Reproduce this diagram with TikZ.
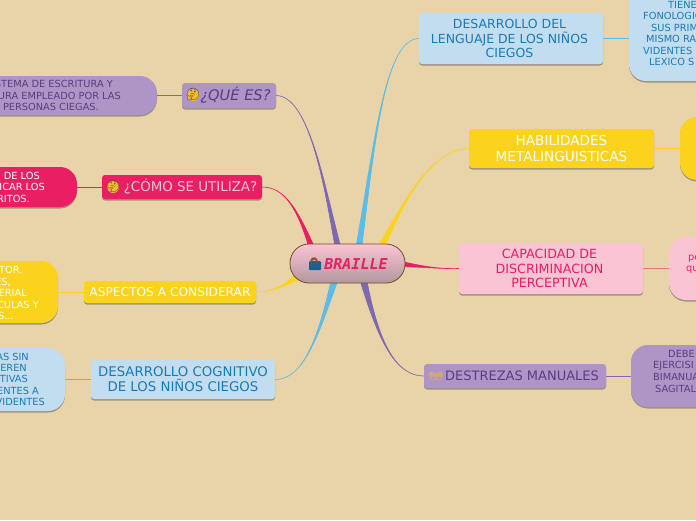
\documentclass[tikz,border=0pt]{standalone}
\usepackage{fontspec}
\setmainfont{DejaVu Sans}
\newfontfamily\braillefont{DejaVu Sans Mono}
\newfontfamily\emojifont{Noto Emoji}
\usetikzlibrary{backgrounds,calc,shadows}

\definecolor{paper}{HTML}{E8D4A8}
\definecolor{lilac}{HTML}{AE95C6}
\definecolor{lilacdark}{HTML}{5C3B82}
\definecolor{lilacline}{HTML}{7E68B0}
\definecolor{crimson}{HTML}{E91E63}
\definecolor{rose}{HTML}{FBC4D4}
\definecolor{roseline}{HTML}{E8708A}
\definecolor{sun}{HTML}{FBD31C}
\definecolor{sky}{HTML}{C2DCF0}
\definecolor{skydark}{HTML}{1A7AB5}
\definecolor{skyline}{HTML}{5BBCE8}
\definecolor{smile}{HTML}{F5B82E}

\tikzset{
  mainbox/.style={rectangle, rounded corners=3pt, inner sep=0pt, align=center,
    font=\fontsize{13}{14.5}\selectfont,
    drop shadow={shadow xshift=0pt, shadow yshift=-1.5pt, fill=black!60, opacity=.6}},
  leafbox/.style={rectangle, rounded corners=17pt, inner sep=0pt,
    drop shadow={shadow xshift=0pt, shadow yshift=-1.5pt, fill=black!60, opacity=.6}},
  leaftext/.style={inner sep=0pt, font=\fontsize{9.8}{11}\selectfont},
  smiley/.style={inner sep=0pt, font=\emojifont\fontsize{12}{12}\selectfont}
}

% tapering branch from a topic to the centre
\newcommand{\branch}[6]{\filldraw[#1, line width=.6pt] (#2) .. controls #3 and #4 .. ($(braille)+#5$) -- ($(braille)+#6$) .. controls #4 and #3 .. cycle;}

\begin{document}
\begin{tikzpicture}[x=1pt, y=-1pt]
\useasboundingbox (0,0) rectangle (696,520);
\clip (0,0) rectangle (696,520);

% Centre
\node[rectangle, rounded corners=19pt, draw=black!40!brown, line width=.8pt, top color=rose, bottom color=rose!60!black!75,
  minimum width=115, minimum height=39, inner sep=0pt] (braille) at (347.5,263.5) {};
\node[inner sep=0pt, text=crimson, font=\braillefont\bfseries\itshape\fontsize{15}{16}\selectfont] (brailletext) at (356,264) {BRAILLE};
\fill[skydark!80!black, rounded corners=1pt] (309,261) rectangle (321,270);
\node[smiley, text=brown!70!black, font=\emojifont\fontsize{9}{9}\selectfont] (brailleicon) at (314,262) {\symbol{"1F469}};

% Topics on the left
\node[mainbox, fill=lilac, text=lilacdark, minimum width=94, minimum height=25, font=\fontsize{14.6}{16}\selectfont\itshape] (que) at (229,95.5) {\hspace*{13pt}¿QUÉ ES?};
\node[mainbox, fill=crimson, text=rose, minimum width=160, minimum height=24, font=\fontsize{13.4}{15}\selectfont] (como) at (182,187) {\hspace*{17pt}¿CÓMO SE UTILIZA?};
\node[mainbox, fill=sun, text=white, minimum width=172, minimum height=22, font=\fontsize{12.2}{14}\selectfont] (aspectos) at (170,292) {ASPECTOS A CONSIDERAR};
\node[mainbox, fill=sky, text=skydark, minimum width=184, minimum height=39, font=\fontsize{13.3}{15}\selectfont] (cognitivo) at (183,379.5) {DESARROLLO COGNITIVO\\DE LOS NIÑOS CIEGOS};

% Topics on the right
\node[mainbox, fill=sky, text=skydark, minimum width=184, minimum height=51, font=\fontsize{12.5}{14.7}\selectfont] (lenguaje) at (511,38.5) {\hspace*{-3pt}DESARROLLO DEL\\\hspace*{-3pt}LENGUAJE DE LOS NIÑOS\\\hspace*{-3pt}CIEGOS};
\node[mainbox, fill=sun, text=white, minimum width=185, minimum height=39, font=\fontsize{13.6}{15.5}\selectfont] (habilidades) at (561.5,148.5) {HABILIDADES\\METALINGUISTICAS};
\node[mainbox, fill=rose, text=crimson, minimum width=184, minimum height=51, font=\fontsize{12.7}{14.7}\selectfont] (capacidad) at (551,268.5) {\hspace*{-3pt}CAPACIDAD DE\\\hspace*{-3pt}DISCRIMINACION\\\hspace*{-3pt}PERCEPTIVA};
\node[mainbox, fill=lilac, text=lilacdark, minimum width=182, minimum height=24] (destrezas) at (515,376) {\hspace*{14pt}DESTREZAS MANUALES};

% Leaves, cut by the page edge
\node[leafbox, fill=lilac, minimum width=200, minimum height=39] (queleaf) at (57,95.5) {};
\node[leafbox, fill=crimson, minimum width=160, minimum height=40] (comoleaf) at (-3,187) {};
\node[leafbox, fill=sun, minimum width=160, minimum height=62] (aspectosleaf) at (-22,292) {};
\node[leafbox, fill=sky, minimum width=160, minimum height=63] (cognitivoleaf) at (-15,379.5) {};
\node[leafbox, fill=sky, minimum width=160, minimum height=120] (lenguajeleaf) at (709,21) {};
\node[leafbox, fill=sun, minimum width=160, minimum height=63] (habilidadesleaf) at (760,148.5) {};
\node[leafbox, fill=rose, minimum width=160, minimum height=63] (capacidadleaf) at (749,268.5) {};
\node[leafbox, fill=lilac, minimum width=160, minimum height=62] (destrezasleaf) at (711,376) {};

% Leaf texts
\foreach \xr/\yy/\txt [count=\i] in {113/84/STEMA DE ESCRITURA Y, 121/96/TURA EMPLEADO POR LAS, 99/107/PERSONAS CIEGAS.}
  \node[leaftext, text=lilacdark, anchor=east] (quetext\i) at (\xr,\yy) {\txt};
\foreach \xr/\yy/\txt [count=\i] in {40/176/DE LOS, 45/187/ICAR LOS, 30/199/RITOS.}
  \node[leaftext, text=white, anchor=east] (comotext\i) at (\xr,\yy) {\txt};
\foreach \xr/\yy/\txt [count=\i] in {23/270/{TOR,}, 11/282/{ES,}, 27/293/ERIAL, 39/305/CULAS Y, 14/316/{S.{}.{}.{}}}
  \node[leaftext, text=white, anchor=east] (aspectostext\i) at (\xr,\yy) {\txt};
\foreach \xr/\yy/\txt [count=\i] in {29/357/AS SIN, 27/368/IEREN, 28/379/TIVAS, 39/391/ENTES A, 45/402/VIDENTES}
  \node[leaftext, text=skydark, anchor=east] (cognitivotext\i) at (\xr,\yy) {\txt};
\foreach \xl/\yy/\txt [count=\i] in {668/5/TIENE, 643/16/FONOLOGIC, 651/28/SUS PRIM, 646/39/MISMO RA, 643/51/VIDENTES, 649/62/LEXICO S}
  \node[leaftext, text=skydark, anchor=west] (lenguajetext\i) at (\xl,\yy) {\txt};
\foreach \xl/\yy/\txt [count=\i] in {688/259/pe, 686/270/qu}
  \node[leaftext, text=crimson, anchor=west] (capacidadtext\i) at (\xl,\yy) {\txt};
\foreach \xl/\yy/\txt [count=\i] in {668/354/DEBE, 653/366/EJERCISI, 653/377/BIMANUA, 655/389/SAGITAL}
  \node[leaftext, text=lilacdark, anchor=west] (destrezastext\i) at (\xl,\yy) {\txt};

% Icons
\fill[smile] (193,95) circle (6);
\node[smiley, text=black!70] (queicon) at (193,95) {\symbol{"1F914}};
\fill[smile] (113,187) circle (6);
\node[smiley, text=black!70] (comoicon) at (113,187) {\symbol{"1F914}};
\node[smiley, text=smile] (destrezasicon) at (436,376) {\symbol{"1F450}};

\begin{scope}[on background layer]
\fill[paper] (0,0) rectangle (696,520);

% Branches to the centre
\branch{lilacline}{que.east}{(310,96)}{(325,190)}{(-12,-14)}{(-6,-14)}
\branch{crimson}{como.east}{(285,187)}{(298,210)}{(-38,-14)}{(-32,-14)}
\branch{sun}{aspectos.east}{(272,292)}{(287,285)}{(-50,8)}{(-44,14)}
\branch{skyline}{cognitivo.east}{(305,380)}{(320,330)}{(-16,15)}{(-9,15)}
\branch{skyline}{lenguaje.west}{(385,39)}{(375,140)}{(8,-14)}{(14,-14)}
\branch{sun}{habilidades.west}{(430,150)}{(405,200)}{(29,-14)}{(36,-14)}
\branch{crimson}{capacidad.west}{(440,269)}{(425,267)}{(50,-3)}{(50,3)}
\branch{lilacline}{destrezas.west}{(395,376)}{(378,340)}{(12,15)}{(19,15)}

% Lines to the leaves
\draw[lilacline, line width=1pt] (que.west) -- (queleaf.east);
\draw[crimson, line width=1pt] (como.west) -- (comoleaf.east);
\draw[sun, line width=1pt] (aspectos.west) -- (aspectosleaf.east);
\draw[skyline, line width=1pt] (cognitivo.west) -- (cognitivoleaf.east);
\draw[skyline, line width=1pt] (lenguaje.east) -- (lenguaje.east -| lenguajeleaf.west);
\draw[sun, line width=1pt] (habilidades.east) -- (habilidadesleaf.west);
\draw[roseline, line width=1.6pt] (capacidad.east) -- (capacidadleaf.west);
\draw[lilacline, line width=1pt] (destrezas.east) -- (destrezasleaf.west);
\end{scope}
\end{tikzpicture}
\end{document}
